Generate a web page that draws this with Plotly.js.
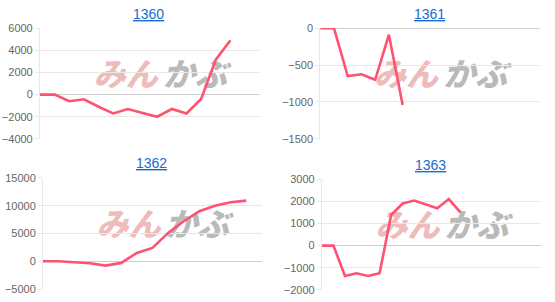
<!DOCTYPE html>
<html><head><meta charset="utf-8">
<script src="https://cdn.plot.ly/plotly-3.0.1.min.js"></script>
<style>body{margin:0;background:#fff}#c{width:555px;height:302px}</style>
</head><body><div id="c"></div>
<script>
const titles = ["1360", "1361", "1362", "1363"];
const s1360 = [0, 0, -600, -420, -1100, -1700, -1300, -1650, -2000, -1300, -1700, -400, 3150, 4900];
const s1361 = [0, 0, -650, -625, -700, -90, -1040];
const s1362 = [0, 0, -180, -360, -780, -300, 1500, 2400, 5100, 7200, 9000, 10000, 10600, 10900];
const s1363 = [0, 0, -1370, -1250, -1370, -1250, 1380, 1900, 2030, 1860, 1680, 2100, 1500];
const series = [s1360, s1361, s1362, s1363];
const xSpan = [15, 16, 14, 19];
const yRanges = [[-4000, 6000], [-1500, 0], [-5000, 15000], [-2000, 3000]];
const yDticks = [2000, 500, 5000, 1000];

const xDom = [[0.072, 0.468], [0.577, 0.973], [0.0775, 0.472], [0.580, 0.975]];
const yDom = [[0.540, 0.907], [0.540, 0.907], [0.043, 0.411], [0.040, 0.407]];

const lineColor = "rgb(255,82,112)";
const wmFont = "Noto Sans CJK JP Black, Noto Sans CJK JP Bold, Noto Sans CJK JP";
const data = [];
const layout = {
  width: 555, height: 302, autosize: false,
  margin: {l: 0, r: 0, t: 0, b: 0},
  paper_bgcolor: "#fff", plot_bgcolor: "#fff",
  showlegend: false,
  font: {family: "Liberation Sans, Arial, sans-serif", size: 11, color: "#666"},
  annotations: [], shapes: []
};
series.forEach((vals, i) => {
  const n = i === 0 ? "" : String(i + 1);
  data.push({
    type: "scatter", mode: "lines",
    x: vals.map((v, k) => k), y: vals,
    xaxis: "x" + n, yaxis: "y" + n,
    line: {color: lineColor, width: 2.6},
    hoverinfo: "skip"
  });
  layout["xaxis" + n] = {
    domain: xDom[i], anchor: "y" + n, range: [0, xSpan[i]],
    showgrid: false, zeroline: false, showticklabels: false, showline: false, ticks: "", fixedrange: true
  };
  layout["yaxis" + n] = {
    domain: yDom[i], anchor: "x" + n, range: yRanges[i], dtick: yDticks[i], tick0: 0,
    tickformat: "d",
    showgrid: true, gridcolor: "#e8e8e8", gridwidth: 1,
    zeroline: true, zerolinecolor: "#cfcfcf", zerolinewidth: 1,
    showline: true, linecolor: "#e8e8e8", linewidth: 1,
    ticks: "outside", ticklen: 4, tickcolor: "#e8e8e8",
    tickfont: {family: "Liberation Sans, Arial, sans-serif", size: 11, color: "#666"},
    fixedrange: true
  };
  const xc = (xDom[i][0] + xDom[i][1]) / 2;
  layout.annotations.push({
    xref: "paper", yref: "paper", x: xc - 0.002, y: yDom[i][1] + 0.048,
    xanchor: "center", yanchor: "middle", showarrow: false,
    text: "<span style='text-decoration:underline'>" + titles[i] + "</span>",
    font: {family: "Liberation Sans, Arial, sans-serif", size: 14, color: "#1a6bd0"}
  });
  layout.shapes.push({
    type: "rect", xref: "x" + n + " domain", yref: "y" + n + " domain",
    x0: 0.24, x1: 0.54, y0: 0.44, y1: 0.68, layer: "below",
    line: {width: 0}, fillcolor: "rgba(0,0,0,0)",
    label: {text: "<b><i>みん</i></b>", textposition: "middle center",
      font: {family: wmFont, size: 32, color: "rgba(226,130,130,0.55)", weight: 900, style: "italic"}}
  });
  layout.shapes.push({
    type: "rect", xref: "x" + n + " domain", yref: "y" + n + " domain",
    x0: 0.55, x1: 0.86, y0: 0.44, y1: 0.68, layer: "below",
    line: {width: 0}, fillcolor: "rgba(0,0,0,0)",
    label: {text: "<b><i>かぶ</i></b>", textposition: "middle center",
      font: {family: wmFont, size: 32, color: "rgba(140,140,140,0.6)", weight: 900, style: "italic"}}
  });
});
Plotly.newPlot("c", data, layout, {displayModeBar: false, staticPlot: true});
</script>
</body></html>
